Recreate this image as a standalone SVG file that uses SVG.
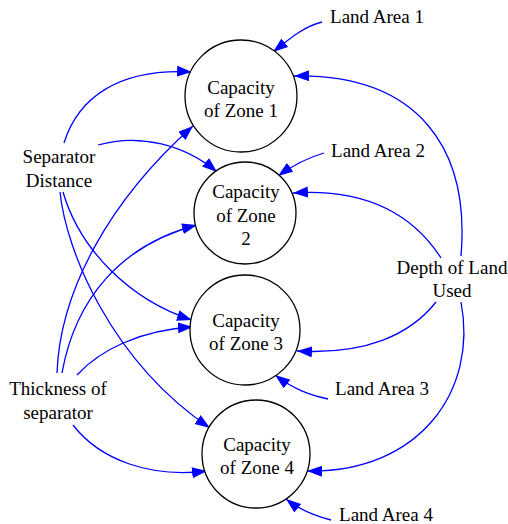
<svg xmlns="http://www.w3.org/2000/svg" width="508" height="524" viewBox="0 0 508 524">
  <defs>
    <marker id="arrow" markerUnits="userSpaceOnUse" markerWidth="16" markerHeight="12" refX="15" refY="5.5" orient="auto">
      <path d="M0,0 L15,5.5 L0,11 z" fill="#0000ff"/>
    </marker>
  </defs>
  <style>
    text { font-family: "Liberation Serif", "Times New Roman", serif; font-size: 19px; fill: #000; text-anchor: middle; }
    .zone { fill: #fff; stroke: #000; stroke-width: 1.3; }
    .edge { fill: none; stroke: #0000ff; stroke-width: 1.3; marker-end: url(#arrow); }
  </style>
  <rect width="508" height="524" fill="#fff"/>

  <g id="connectors">
    <!-- land areas -->
    <path class="edge" d="M322,22 C302,27 287,41 273,52"/>
    <path class="edge" d="M324,153 C310,157 292,166 278,176"/>
    <path class="edge" d="M328,399 C310,395 295,390 275,375"/>
    <path class="edge" d="M331,520 C315,516 300,510 286,499"/>
    <!-- depth of land used -->
    <path class="edge" d="M461,256 C470,150 420,74 294,76"/>
    <path class="edge" d="M441,258 C415,218 370,188 293,193"/>
    <path class="edge" d="M436,302 C410,335 365,355 297,351"/>
    <path class="edge" d="M461,302 C478,390 420,473 307,471"/>
    <!-- separator distance -->
    <path class="edge" d="M64,143 C78,98 118,68 192,72"/>
    <path class="edge" d="M98,145 C140,133 185,145 217,172"/>
    <path class="edge" d="M63,192 C80,250 130,300 192,320"/>
    <path class="edge" d="M60,192 C66,250 110,360 210,428"/>
    <!-- thickness of separator -->
    <path class="edge" d="M57,373 C60,290 110,200 193,126"/>
    <path class="edge" d="M62,373 C75,300 120,245 197,225"/>
    <path class="edge" d="M77,375 C100,350 140,330 193,327"/>
    <path class="edge" d="M73,425 C100,460 150,478 207,471"/>
  </g>

  <g id="zone1">
    <circle class="zone" cx="241" cy="96" r="56"/>
    <text x="241" y="94">Capacity</text>
    <text x="241" y="117">of Zone 1</text>
  </g>
  <g id="zone2">
    <circle class="zone" cx="245" cy="213" r="51"/>
    <text x="246" y="198">Capacity</text>
    <text x="246" y="222">of Zone</text>
    <text x="246" y="245">2</text>
  </g>
  <g id="zone3">
    <circle class="zone" cx="245" cy="330" r="55"/>
    <text x="246" y="327">Capacity</text>
    <text x="246" y="350">of Zone 3</text>
  </g>
  <g id="zone4">
    <circle class="zone" cx="256" cy="454" r="54"/>
    <text x="257" y="451">Capacity</text>
    <text x="257" y="474">of Zone 4</text>
  </g>

  <g id="land-area-1"><text x="377" y="23">Land Area 1</text></g>
  <g id="land-area-2"><text x="378" y="157">Land Area 2</text></g>
  <g id="land-area-3"><text x="382" y="395">Land Area 3</text></g>
  <g id="land-area-4"><text x="386" y="521">Land Area 4</text></g>

  <g id="separator-distance">
    <text x="59" y="163">Separator</text>
    <text x="59" y="187">Distance</text>
  </g>
  <g id="thickness-of-separator">
    <text x="58" y="395">Thickness of</text>
    <text x="58" y="419">separator</text>
  </g>
  <g id="depth-of-land-used">
    <text x="452" y="274">Depth of Land</text>
    <text x="452" y="297">Used</text>
  </g>
</svg>
